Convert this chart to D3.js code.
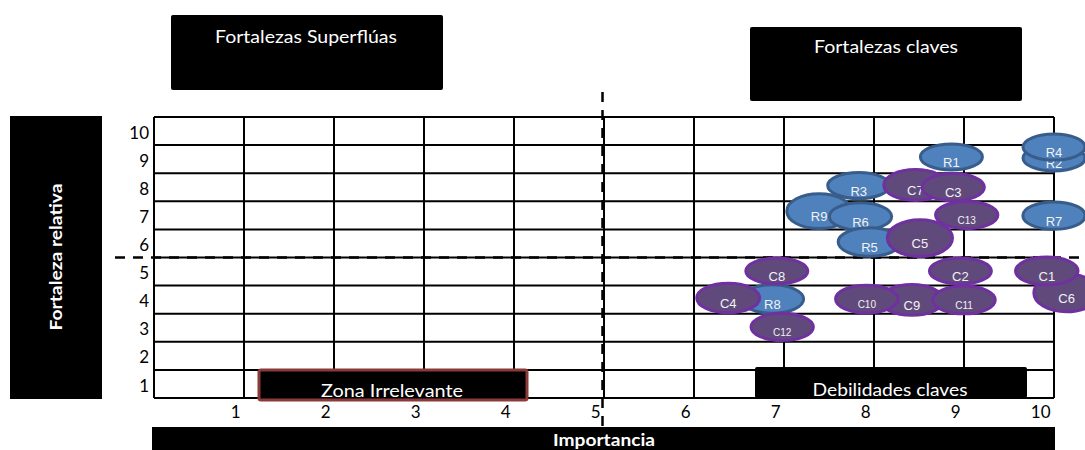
<!DOCTYPE html>
<html>
<head>
<meta charset="utf-8">
<script src="https://cdn.jsdelivr.net/npm/d3@7"></script>
<style>
  html, body { margin: 0; padding: 0; background: #ffffff; overflow: hidden; }
  svg { display: block; }
</style>
</head>
<body>
<svg id="chart" width="1085" height="450"></svg>
<script>
// Axis tick labels
const xTicks = [1, 2, 3, 4, 5, 6, 7, 8, 9, 10];
const yTicks = [1, 2, 3, 4, 5, 6, 7, 8, 9, 10];

// "R" series (listed in drawing order)
const rNames = ["R3", "R9", "R6", "R5", "R1", "R2", "R4", "R7", "R8"];
const rImportancia = [7.83, 7.39, 7.85, 7.95, 8.86, 10.0, 10.0, 10.0, 6.87];
const rFortaleza = [8.06, 7.15, 6.96, 6.05, 9.08, 9.04, 9.43, 6.99, 4.02];
const rSize = [1.0, 1.8, 1.1, 1.2, 1.0, 1.0, 1.0, 1.1, 1.2];

// "C" series (listed in drawing order)
const cNames = ["C6", "C9", "C7", "C3", "C13", "C5", "C1", "C2", "C11", "C10", "C4", "C8", "C12"];
const cImportancia = [10.14, 8.42, 8.46, 8.88, 9.03, 8.51, 9.92, 8.96, 9.0, 7.92, 6.38, 6.92, 6.98];
const cFortaleza = [4.24, 3.99, 8.08, 8.0, 7.01, 6.19, 5.02, 5.02, 3.99, 4.02, 4.06, 5.02, 3.03];
const cSize = [2.1, 1.4, 1.4, 1.1, 1.1, 2.0, 1.15, 1.0, 1.15, 1.15, 1.3, 1.0, 1.1];

// Quadrant thresholds
const thresholdX = 5;
const thresholdY = 5.5;

const svg = d3.select("#chart");
const W = 1085, H = 450;

const x = d3.scaleLinear().domain([0, 10]).range([154, 1054]);
const y = d3.scaleLinear().domain([0.5, 10.5]).range([398, 117]);
const ry = d3.scaleSqrt().domain([0, 1]).range([0, 13]);
const rx = d3.scaleLinear().domain([1, 2]).range([31, 32.6]);

const uiFont = "Lato, 'Open Sans', sans-serif";
const markFont = "'Liberation Sans', Arial, sans-serif";

// ---- Grid ----
const grid = svg.append("g");
grid.selectAll("line.v")
  .data(d3.range(0, 11))
  .join("line")
  .attr("x1", d => x(d)).attr("x2", d => x(d))
  .attr("y1", y(10.5)).attr("y2", y(0.5))
  .attr("stroke", "#000").attr("stroke-width", 2);
grid.selectAll("line.h")
  .data(d3.range(0.5, 11, 1))
  .join("line")
  .attr("x1", x(0)).attr("x2", x(10))
  .attr("y1", d => y(d)).attr("y2", d => y(d))
  .attr("stroke", "#000").attr("stroke-width", 2);

// ---- Axis tick labels ----
const xAxis = d3.axisBottom(x).tickValues(xTicks).tickSize(0).tickPadding(0).tickFormat(d3.format("d"));
const gx = svg.append("g").attr("transform", `translate(0, ${y(0.5)})`).call(xAxis);
gx.select(".domain").remove();
gx.selectAll("text")
  .attr("font-family", uiFont).attr("font-size", 17).attr("fill", "#000")
  .attr("text-anchor", "end").attr("x", -4).attr("dy", null).attr("y", 20);

const yAxis = d3.axisLeft(y).tickValues(yTicks).tickSize(0).tickPadding(5).tickFormat(d3.format("d"));
const gy = svg.append("g").attr("transform", `translate(${x(0)}, 0)`).call(yAxis);
gy.select(".domain").remove();
gy.selectAll("text")
  .attr("font-family", uiFont).attr("font-size", 17).attr("fill", "#000")
  .attr("dy", "0.42em").attr("x", -5);

// ---- Quadrant dividers ----
svg.append("line")
  .attr("x1", 115).attr("x2", W)
  .attr("y1", y(thresholdY)).attr("y2", y(thresholdY))
  .attr("stroke", "#000").attr("stroke-width", 2.5).attr("stroke-dasharray", "10,8");
svg.append("line")
  .attr("x1", x(thresholdX) - 1.5).attr("x2", x(thresholdX) - 1.5)
  .attr("y1", 92).attr("y2", 430)
  .attr("stroke", "#000").attr("stroke-width", 2.5).attr("stroke-dasharray", "10,8");

// ---- Bubbles ----
function drawSeries(names, xs, ys, sizes, fill, stroke) {
  const data = names.map((n, i) => ({ name: n, x: xs[i], y: ys[i], s: sizes[i] }));
  const g = svg.append("g");
  const b = g.selectAll("g").data(data).join("g")
    .attr("transform", d => `translate(${x(d.x)}, ${y(d.y)})`);
  b.append("ellipse")
    .attr("rx", d => rx(d.s)).attr("ry", d => ry(d.s))
    .attr("fill", fill).attr("stroke", stroke).attr("stroke-width", 3);
  b.append("text")
    .attr("text-anchor", "middle").attr("y", 5.5).attr("dy", "0.35em")
    .attr("font-family", markFont)
    .attr("font-size", d => d.name.length > 2 ? 10 : 13)
    .attr("fill", "#f2f2f2")
    .text(d => d.name);
}
drawSeries(rNames, rImportancia, rFortaleza, rSize, "#4f81bd", "#385d8a");
drawSeries(cNames, cImportancia, cFortaleza, cSize, "#604a7b", "#7030a0");

// ---- Quadrant captions ----
function caption(x0, y0, w, h, label, tx, ty, tlen, border) {
  svg.append("rect")
    .attr("x", x0).attr("y", y0).attr("width", w).attr("height", h)
    .attr("rx", 2).attr("fill", "#000")
    .attr("stroke", border || "none").attr("stroke-width", border ? 3 : 0);
  svg.append("text")
    .attr("x", tx).attr("y", ty)
    .attr("text-anchor", "middle")
    .attr("font-family", uiFont).attr("font-size", 17).attr("fill", "#fff")
    .attr("textLength", tlen).attr("lengthAdjust", "spacingAndGlyphs")
    .text(label);
}
caption(171, 15, 272, 75, "Fortalezas Superflúas", 306, 43, 182);
caption(750, 27, 272, 74, "Fortalezas claves", 886, 53, 144);
caption(259, 370, 268, 30, "Zona Irrelevante", 392, 397, 142, "#8b3a3a");
caption(755, 367, 272, 31, "Debilidades claves", 890, 396, 155);

// ---- Axis titles ----
svg.append("rect").attr("x", 10).attr("y", 116).attr("width", 92).attr("height", 283).attr("fill", "#000");
svg.append("text")
  .attr("transform", `translate(62, 257) rotate(-90)`)
  .attr("text-anchor", "middle")
  .attr("font-family", uiFont).attr("font-weight", "bold").attr("font-size", 17).attr("fill", "#fff")
  .attr("textLength", 147).attr("lengthAdjust", "spacingAndGlyphs")
  .text("Fortaleza relativa");

svg.append("rect").attr("x", 152).attr("y", 427).attr("width", 903).attr("height", 23).attr("fill", "#000");
svg.append("text")
  .attr("x", 604).attr("y", 446)
  .attr("text-anchor", "middle")
  .attr("font-family", uiFont).attr("font-weight", "bold").attr("font-size", 17).attr("fill", "#fff")
  .attr("textLength", 102).attr("lengthAdjust", "spacingAndGlyphs")
  .text("Importancia");
</script>
</body>
</html>
